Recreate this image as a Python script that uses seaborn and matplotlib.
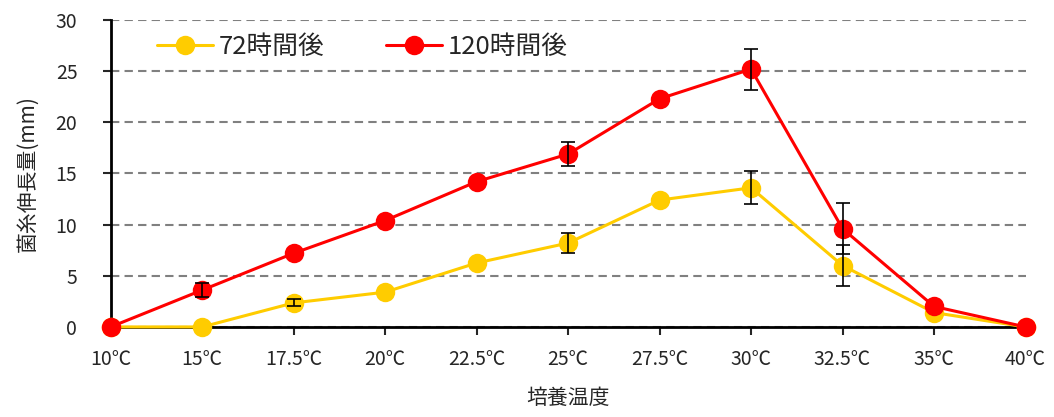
import matplotlib
matplotlib.use("Agg")
import matplotlib.pyplot as plt
import seaborn as sns
import pandas as pd
import numpy as np

temps = ["10℃", "15℃", "17.5℃", "20℃", "22.5℃", "25℃", "27.5℃", "30℃", "32.5℃", "35℃", "40℃"]
h72 = [0.0, 0.0, 2.35, 3.4, 6.25, 8.2, 12.4, 13.6, 6.0, 1.4, 0.0]
h72_err = [0.0, 0.0, 0.35, 0.0, 0.0, 1.0, 0.0, 1.6, 2.0, 0.0, 0.0]
h120 = [0.0, 3.6, 7.2, 10.4, 14.2, 16.9, 22.3, 25.2, 9.6, 2.0, 0.0]
h120_err = [0.0, 0.7, 0.0, 0.0, 0.0, 1.2, 0.0, 2.0, 2.5, 0.0, 0.0]
labels = ["72時間後", "120時間後"]
colors = ["#FFCC00", "#FF0000"]

sns.set_style("white")
plt.rcParams["font.family"] = ["Noto Sans CJK JP", "DejaVu Sans"]

pos = np.arange(len(temps))
df = pd.DataFrame({
    "pos": np.concatenate([pos, pos]),
    "val": h72 + h120,
    "series": [labels[0]] * len(temps) + [labels[1]] * len(temps),
})

fig = plt.figure(figsize=(10.54, 4.17), dpi=100)
ax = fig.add_axes([0.105, 0.216, 0.868, 0.736])

ax.yaxis.grid(True, linestyle=(0, (4, 2.5)), color="#808080", linewidth=1.5)
ax.set_axisbelow(True)

sns.lineplot(data=df, x="pos", y="val", hue="series", palette=colors,
             marker="o", markersize=14, markeredgewidth=0, linewidth=2.2,
             ax=ax, zorder=3)

# only draw error bars where there is a visible error
for vals, errs in [(h72, h72_err), (h120, h120_err)]:
    v = np.array(vals)
    e = np.array(errs)
    m = e > 0
    ax.errorbar(pos[m], v[m], yerr=e[m], fmt="none", ecolor="black",
                elinewidth=1.2, capsize=5, capthick=1.2, zorder=4)

ax.set_xlim(0, len(temps) - 1)
ax.set_ylim(0, 30)
ax.set_yticks(range(0, 31, 5))
ax.set_xticks(pos)
ax.set_xticklabels(temps)
ax.tick_params(axis="x", length=6, width=1.5, pad=10, labelsize=14, direction="out", bottom=True)
ax.tick_params(axis="y", length=6, width=1.5, pad=18, labelsize=14, direction="out", left=True)

for s in ["top", "right"]:
    ax.spines[s].set_visible(False)
for s in ["left", "bottom"]:
    ax.spines[s].set_color("black")
    ax.spines[s].set_linewidth(2)

ax.set_xlabel("培養温度", fontsize=15, labelpad=12)
ax.set_ylabel("菌糸伸長量(mm)", fontsize=15, labelpad=12)

ax.legend(loc="upper left", bbox_to_anchor=(0.025, 1.03), ncol=2, frameon=False,
          fontsize=18.5, handlelength=2.2, columnspacing=2.4, handletextpad=0.2)

for line in ax.get_lines():
    line.set_clip_on(False)

fig.savefig("out.png", dpi=100)
